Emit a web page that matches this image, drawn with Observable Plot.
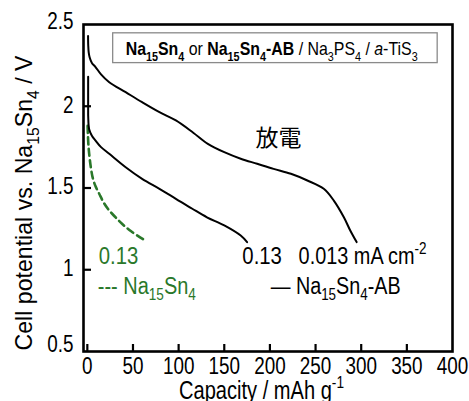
<!DOCTYPE html>
<html><head><meta charset="utf-8">
<script src="https://cdn.jsdelivr.net/npm/d3@7"></script>
<script src="https://cdn.jsdelivr.net/npm/@observablehq/plot@0.6"></script>
<style>body{margin:0;background:#fff}#chart{width:469px;height:401px}</style>
</head><body><div id="chart"></div>
<script>
// ---- data ----
const capAB013 = [0.8, 1.0, 1.5, 2.5, 5, 9, 15, 24, 42, 60, 79, 97, 116, 132, 150, 168, 186, 204, 223, 241, 259, 270, 281, 288, 295];
const vAB013   = [2.43, 2.37, 2.33, 2.30, 2.265, 2.24, 2.195, 2.147, 2.086, 2.025, 1.964, 1.913, 1.838, 1.770, 1.719, 1.679, 1.648, 1.617, 1.587, 1.546, 1.495, 1.423, 1.321, 1.240, 1.169];
const capAB13  = [0.9, 0.9, 1.0, 2, 5, 9, 15, 24, 42, 60, 79, 97, 115, 131, 150, 168, 175];
const vAB13    = [2.18, 2.00, 1.93, 1.86, 1.82, 1.79, 1.75, 1.709, 1.627, 1.556, 1.495, 1.434, 1.373, 1.321, 1.271, 1.209, 1.169];
const capNa13  = [0.3, 1, 2, 4, 6, 9, 13, 18, 24, 31, 38, 48, 61];
const vNa13    = [1.88, 1.78, 1.71, 1.62, 1.56, 1.51, 1.465, 1.41, 1.362, 1.32, 1.281, 1.235, 1.187];

const xTickLabels = [0, 50, 100, 150, 200, 250, 300, 350, 400];
const xInnerTicks = [0, 50, 100, 150, 200, 250, 300, 350];
const yTickLabels = [1, 1.5, 2];
const yTopLabel = [2.5];
const yBottomLabel = [0.5];
const yInnerTicks = [1, 1.5, 2];

const xLabel = "Capacity / mAh g^{-1}";
const yLabel = "Cell potential vs. Na_{15}Sn_{4} / V";
const boxText = "**Na_{15}Sn_{4}** or **Na_{15}Sn_{4}-AB** / Na_{3}PS_{4} / //a//-TiS_{3}";
const dischargeText = "放電";
const rateNa = "0.13";
const legendNa = "--- Na_{15}Sn_{4}";
const rateAB13 = "0.13";
const rateAB013 = "0.013 mA cm^{-2}";
const legendAB = "— Na_{15}Sn_{4}-AB";

const toRows = (cap, v) => cap.map((c, i) => ({cap: c, v: v[i]}));
const FONT = '"Liberation Sans", Arial, sans-serif';
const CJK = '"Noto Sans CJK JP", "Noto Sans CJK SC", sans-serif';
const GREEN = "#2a782a";
const BOX_X = 42, BOX_Y = 2.347;

const chart = Plot.plot({
  width: 469, height: 401,
  marginLeft: 83, marginRight: 17, marginTop: 24, marginBottom: 50,
  style: {fontFamily: FONT, fontSize: "23px", background: "white", color: "black"},
  x: {domain: [-4.2, 400]},
  y: {domain: [0.5, 2.5]},
  marks: [
    Plot.line(toRows(capNa13, vNa13), {x: "cap", y: "v", stroke: GREEN, strokeWidth: 2.6, strokeDasharray: "7,4.5", curve: "catmull-rom"}),
    Plot.line(toRows(capAB13, vAB13), {x: "cap", y: "v", stroke: "black", strokeWidth: 2, curve: "catmull-rom"}),
    Plot.line(toRows(capAB013, vAB013), {x: "cap", y: "v", stroke: "black", strokeWidth: 2, curve: "catmull-rom"}),
    Plot.axisX({ticks: xTickLabels, tickSize: 0, tickPadding: 6, label: null, tickFormat: d => String(d)}),
    // inward ticks: a bottom axis shifted up by its tick length
    Plot.axisX({ticks: xInnerTicks, tickSize: 7, dy: -7, label: null, tickFormat: () => "", strokeWidth: 2.2}),
    Plot.axisY({ticks: yTickLabels, tickSize: 0, tickPadding: 10, label: null, tickFormat: d => String(d), dy: -1}),
    Plot.axisY({ticks: yTopLabel, tickSize: 0, tickPadding: 10, label: null, tickFormat: d => String(d), dy: -3}),
    Plot.axisY({ticks: yBottomLabel, tickSize: 0, tickPadding: 10, label: null, tickFormat: d => String(d), dy: -7}),
    // inward ticks: a left axis shifted right by its tick length
    Plot.axisY({ticks: yInnerTicks, tickSize: 8, dx: 8, label: null, tickFormat: () => "", strokeWidth: 2.2}),
    Plot.frame({stroke: "black", strokeWidth: 2.6}),
    Plot.text([boxText], {x: [BOX_X], y: [BOX_Y], textAnchor: "start", lineAnchor: "middle", fontSize: 18.5, fill: "black"}),
    Plot.text([dischargeText], {x: [209.5], y: [1.803], textAnchor: "middle", fontSize: 23, fontFamily: CJK, fill: "black"}),
    Plot.text([rateNa], {x: [12.6], y: [1.081], textAnchor: "start", fontSize: 23, fill: GREEN}),
    Plot.text([legendNa], {x: [11.5], y: [0.898], textAnchor: "start", fontSize: 23, fill: GREEN}),
    Plot.text([rateAB13], {x: [169.8], y: [1.081], textAnchor: "start", fontSize: 23, fill: "black"}),
    Plot.text([rateAB013], {x: [231.4], y: [1.081], textAnchor: "start", fontSize: 23, fill: "black"}),
    Plot.text([legendAB], {x: [200.8], y: [0.898], textAnchor: "start", fontSize: 23, fill: "black"}),
    Plot.text([xLabel], {frameAnchor: "bottom", lineAnchor: "middle", dx: -6.5, dy: 39, textAnchor: "middle", fontSize: 25, fill: "black"}),
    Plot.text([yLabel], {frameAnchor: "left", lineAnchor: "middle", rotate: -90, dx: -59, dy: 15, textAnchor: "middle", fontSize: 24, fill: "black"})
  ]
});
document.getElementById("chart").append(chart);

// ---- rich text: _{sub}, ^{sup}, **bold**, //italic// ----
function rich(el) {
  const s = el.textContent;
  if (!/[_^]\{|\*\*|\/\//.test(s)) return false;
  const fs = parseFloat(getComputedStyle(el).fontSize);
  while (el.firstChild) el.removeChild(el.firstChild);
  let bold = false, ital = false, i = 0, buf = "";
  const parts = [];
  const flush = () => { if (buf) parts.push({txt: buf, bold, ital, mode: 0}); buf = ""; };
  while (i < s.length) {
    if (s.startsWith("**", i)) { flush(); bold = !bold; i += 2; }
    else if (s.startsWith("//", i)) { flush(); ital = !ital; i += 2; }
    else if ((s[i] === "_" || s[i] === "^") && s[i + 1] === "{") {
      flush();
      const j = s.indexOf("}", i);
      parts.push({txt: s.slice(i + 2, j), bold, ital, mode: s[i] === "_" ? 1 : -1});
      i = j + 1;
    } else { buf += s[i]; i++; }
  }
  flush();
  let cur = 0;
  for (const p of parts) {
    const target = p.mode === 1 ? fs * 0.28 : p.mode === -1 ? -fs * 0.42 : 0;
    const t = d3.select(el).append("tspan").text(p.txt);
    if (target !== cur) t.attr("dy", target - cur);
    cur = target;
    if (p.mode) t.attr("font-size", fs * 0.68);
    if (p.bold) t.attr("font-weight", "bold");
    if (p.ital) t.attr("font-style", "italic");
  }
  return true;
}
// widths of the narrow typeface measured on the reference
const targetWidth = new Map([
  [boxText, 292], [xLabel, 165], [yLabel, 295], [legendNa, 98],
  [legendAB, 130], [rateAB013, 128], [rateNa, 39.5]
]);
d3.select(chart).selectAll("text").each(function () {
  const orig = this.textContent;
  rich(this);
  if (orig === dischargeText || !orig) return;
  const natural = this.getComputedTextLength();
  if (!natural) return;
  const w = targetWidth.has(orig) ? targetWidth.get(orig) : natural * 0.82;
  this.setAttribute("textLength", w);
  this.setAttribute("lengthAdjust", "spacingAndGlyphs");
  if (orig === boxText) {
    const sx = chart.scale("x").apply(BOX_X), sy = chart.scale("y").apply(BOX_Y);
    const g = this.closest("g");
    const rect = document.createElementNS("http://www.w3.org/2000/svg", "rect");
    g.parentNode.insertBefore(rect, g);
    d3.select(rect)
      .attr("x", sx - 12.5).attr("y", sy - 16.2)
      .attr("width", 324.5).attr("height", 29.8)
      .attr("fill", "white").attr("stroke", "#8a8a8a").attr("stroke-width", 1.3);
  }
});
</script>
</body></html>
